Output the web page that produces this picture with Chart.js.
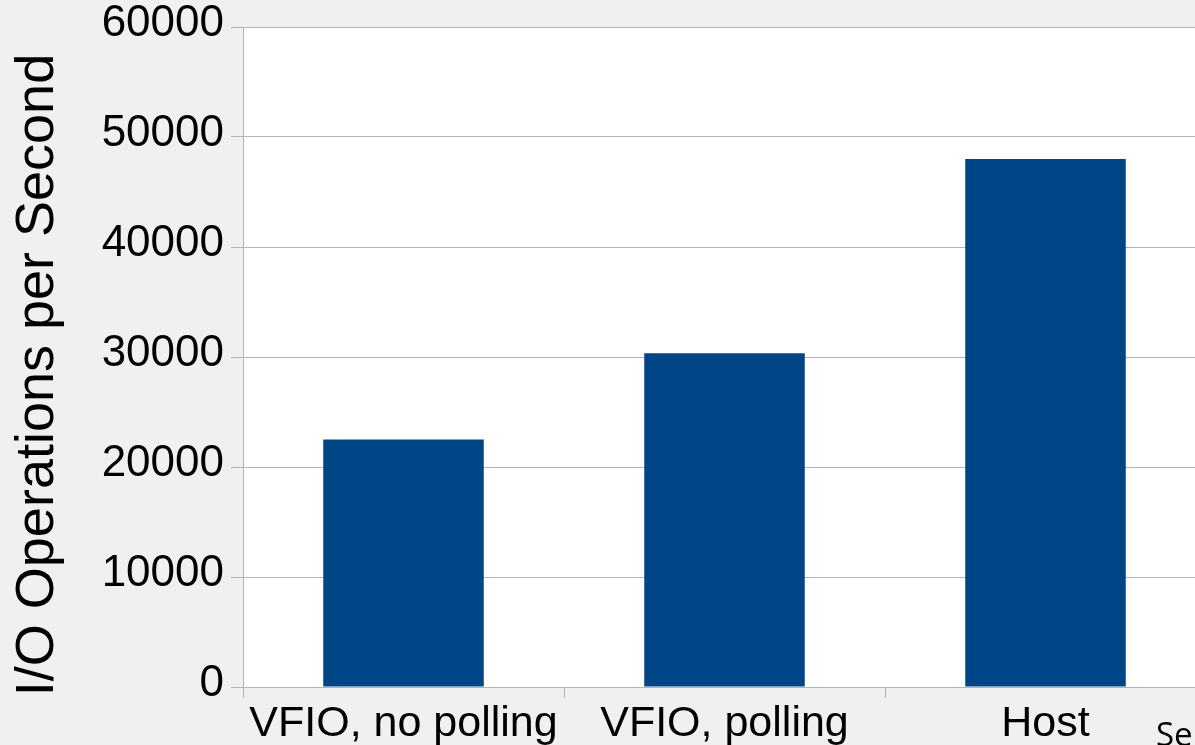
<!DOCTYPE html>
<html>
<head>
<meta charset="utf-8">
<script src="https://cdn.jsdelivr.net/npm/chart.js@4/dist/chart.umd.min.js"></script>
<style>
  html, body { margin: 0; padding: 0; overflow: hidden; background: #f0f0f0; width: 1195px; height: 745px; }
  canvas { display: block; }
</style>
</head>
<body>
<canvas id="c" width="1220" height="745" style="width:1220px;height:745px"></canvas>
<script>
const categories = ["VFIO, no polling", "VFIO, polling", "Host"];
const iopsValues = [22500, 30350, 48000];
const yTicks = [0, 10000, 20000, 30000, 40000, 50000, 60000];
const yTitle = "I/O Operations per Second";
const seriesName = "Series1";

const FONT = "'Liberation Sans', Arial, sans-serif";

const bgPlugin = {
  id: 'bg',
  beforeDraw(chart) {
    const { ctx, chartArea: a } = chart;
    ctx.save();
    ctx.fillStyle = '#f0f0f0';
    ctx.fillRect(0, 0, chart.width, chart.height);
    ctx.fillStyle = '#ffffff';
    ctx.fillRect(a.left, a.top, a.right - a.left, a.bottom - a.top);
    ctx.restore();
  },
  afterDraw(chart) {
    const { ctx, chartArea: a } = chart;
    ctx.save();
    // y-axis title
    ctx.translate(53, (a.top + a.bottom) / 2 + 18);
    ctx.rotate(-Math.PI / 2);
    ctx.font = "54px " + FONT;
    ctx.fillStyle = '#000';
    ctx.textAlign = 'center';
    ctx.textBaseline = 'alphabetic';
    ctx.fillText(yTitle, 0, 0);
    ctx.restore();
    // partially visible series label
    ctx.save();
    ctx.font = "33px 'Open Sans', sans-serif";
    ctx.fillStyle = '#000';
    ctx.textAlign = 'left';
    ctx.textBaseline = 'alphabetic';
    ctx.fillText(seriesName, 1156, 746);
    ctx.restore();
  }
};

new Chart(document.getElementById('c'), {
  type: 'bar',
  data: {
    labels: categories,
    datasets: [{
      label: seriesName,
      data: iopsValues,
      backgroundColor: '#004586',
      borderWidth: 0,
      barPercentage: 0.5,
      categoryPercentage: 1.0
    }]
  },
  options: {
    responsive: false,
    devicePixelRatio: 1,
    animation: false,
    layout: { padding: { top: 27, right: 14, bottom: 0, left: 0 } },
    plugins: {
      legend: { display: false },
      tooltip: { enabled: false }
    },
    scales: {
      x: {
        offset: true,
        grid: {
          offset: true,
          drawOnChartArea: false,
          drawTicks: true,
          tickLength: 11,
          color: '#b3b3b3',
          lineWidth: 1
        },
        border: { display: true, color: '#b3b3b3', width: 1 },
        ticks: {
          font: { family: FONT, size: 43, lineHeight: 1.2 },
          color: '#000',
          padding: 0,
          maxRotation: 0,
          autoSkip: false
        },
        afterFit(scale) { scale.height = 58; scale.paddingLeft = 0; scale.paddingRight = 0; }
      },
      y: {
        min: yTicks[0],
        max: yTicks[yTicks.length - 1],
        afterBuildTicks(scale) { scale.ticks = yTicks.map(v => ({ value: v })); },
        ticks: {
          font: { family: FONT, size: 44, lineHeight: 1.2 },
          color: '#000',
          padding: 7,
          labelOffset: -3,
          callback: (v) => String(v)
        },
        grid: {
          color: '#b3b3b3',
          lineWidth: 1,
          drawTicks: true,
          tickLength: 12
        },
        border: { display: true, color: '#b3b3b3', width: 1 },
        afterFit(scale) { scale.width = 243; scale.paddingTop = 0; scale.paddingBottom = 0; }
      }
    }
  },
  plugins: [bgPlugin]
});
</script>
</body>
</html>
